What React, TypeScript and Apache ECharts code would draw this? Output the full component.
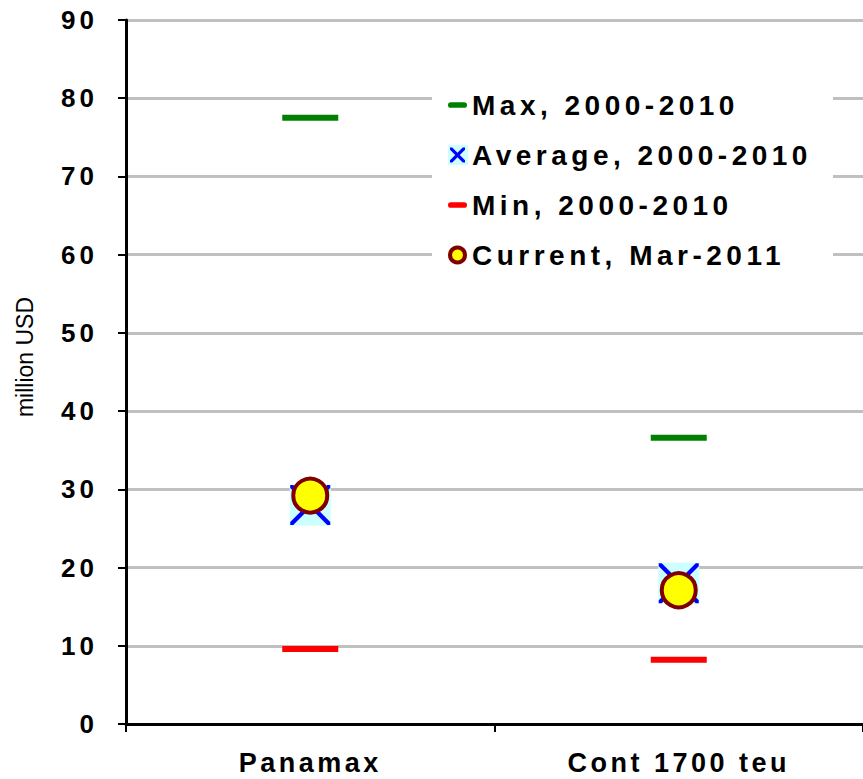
import React, { useEffect, useRef } from "react";
import * as echarts from "echarts";

const categories = ["Panamax", "Cont 1700 teu"];
const maxValues = [77.5, 36.6];
const avgValues = [28.0, 18.0];
const minValues = [9.6, 8.2];
const currentValues = [29.2, 17.1];
const seriesNames = ["Max, 2000-2010", "Average, 2000-2010", "Min, 2000-2010", "Current, Mar-2011"];

const FONT = "'Liberation Sans', Arial, sans-serif";
const X_PATH =
  "path://M0,0L3,0L20,17L37,0L40,0L40,3L23,20L40,37L40,40L37,40L20,23L3,40L0,40L0,37L17,20L0,3Z";
const X_LEGEND_PATH =
  "path://M0,0L6,0L20,14L34,0L40,0L40,6L26,20L40,34L40,40L34,40L20,26L6,40L0,40L0,34L14,20L0,6Z";
const DASH_PATH = "path://M3,0H17A3,3,0,0,1,17,6H3A3,3,0,0,1,3,0Z";

export default function App() {
  const ref = useRef<HTMLDivElement>(null);
  useEffect(() => {
    if (!ref.current) return;
    const chart = echarts.init(ref.current, null, { renderer: "svg" });
    chart.setOption({
      animation: false,
      backgroundColor: "#ffffff",
      grid: { left: 126, right: 0, top: 20, bottom: 55, containLabel: false },
      xAxis: {
        type: "category",
        data: categories,
        boundaryGap: true,
        axisLine: { lineStyle: { color: "#000", width: 3 } },
        axisTick: { show: true, length: 8, lineStyle: { color: "#000", width: 2 } },
        axisLabel: {
          color: "#000",
          fontFamily: FONT,
          fontWeight: "bold",
          fontSize: 27,
          margin: 25,
        },
        splitLine: { show: false },
      },
      yAxis: {
        type: "value",
        min: 0,
        max: 90,
        interval: 10,
        name: "million USD",
        nameLocation: "middle",
        nameRotate: 90,
        nameGap: 90,
        nameTextStyle: {
          color: "#000",
          fontFamily: FONT,
          fontSize: 23,
          padding: [0, 0, 0, 30],
        },
        axisLine: { show: true, lineStyle: { color: "#000", width: 3 } },
        axisTick: { show: true, length: 8, lineStyle: { color: "#000", width: 2 } },
        axisLabel: {
          color: "#000",
          fontFamily: FONT,
          fontWeight: "bold",
          fontSize: 26,
          margin: 28,
        },
        splitLine: { show: true, lineStyle: { color: "#C0C0C0", width: 3 } },
      },
      legend: {
        orient: "vertical",
        left: 443,
        top: 86,
        padding: 5,
        itemWidth: 19,
        itemHeight: 15,
        itemGap: 22,
        itemTextGap: 17,
        textStyle: { color: "#000", fontFamily: FONT, fontWeight: "bold", fontSize: 28 },
        data: [
          { name: seriesNames[0], icon: DASH_PATH, itemStyle: { opacity: 1 } },
          { name: seriesNames[1], icon: X_LEGEND_PATH, itemStyle: { opacity: 1 } },
          { name: seriesNames[2], icon: DASH_PATH, itemStyle: { opacity: 1 } },
          {
            name: seriesNames[3],
            icon: "circle",
            itemStyle: { color: "#FFFF00", borderColor: "#800000", borderWidth: 4, opacity: 1 },
          },
        ],
      },
      graphic: {
        elements: [
          {
            type: "rect",
            z: 1,
            shape: { x: 432, y: 80, width: 401, height: 195 },
            style: { fill: "#ffffff" },
            silent: true,
          },
          {
            type: "rect",
            z: 3,
            shape: { x: 448, y: 145, width: 20, height: 20 },
            style: { fill: "#CCFFFF" },
            silent: true,
          },
        ],
      },
      series: [
        {
          name: seriesNames[0],
          type: "scatter",
          data: maxValues,
          symbol: "rect",
          symbolSize: [56, 6],
          itemStyle: { color: "#008000", opacity: 1 },
          z: 2,
        },
        {
          name: "avgBg",
          type: "scatter",
          data: avgValues,
          symbol: "rect",
          symbolSize: 41,
          itemStyle: { color: "#CCFFFF", opacity: 1 },
          silent: true,
          z: 2,
        },
        {
          name: seriesNames[1],
          type: "scatter",
          data: avgValues,
          symbol: X_PATH,
          symbolSize: 40,
          itemStyle: { color: "#0000FF", opacity: 1 },
          z: 2,
        },
        {
          name: seriesNames[2],
          type: "scatter",
          data: minValues,
          symbol: "rect",
          symbolSize: [56, 6],
          itemStyle: { color: "#FF0000", opacity: 1 },
          z: 2,
        },
        {
          name: seriesNames[3],
          type: "scatter",
          data: currentValues,
          symbol: "circle",
          symbolSize: 34,
          itemStyle: { color: "#FFFF00", borderColor: "#800000", borderWidth: 4, opacity: 1 },
          z: 2,
        },
      ],
    });
    return () => chart.dispose();
  }, []);
  return (
    <>
      <style>{`
        #chartbox text[style*="28px"] { letter-spacing: 4.5px; }
        #chartbox text[style*="27px"] { letter-spacing: 3.5px; }
        #chartbox text[style*="26px"] { letter-spacing: 4px; }
      `}</style>
      <div
        id="chartbox"
        ref={ref}
        style={{ position: "absolute", left: 0, top: 0, width: 863, height: 779 }}
      />
    </>
  );
}
